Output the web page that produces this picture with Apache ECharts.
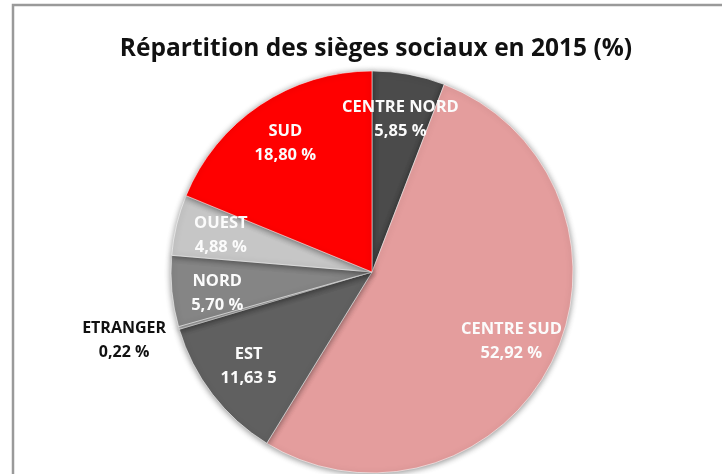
<!DOCTYPE html>
<html>
<head>
<meta charset="utf-8">
<script src="https://cdn.jsdelivr.net/npm/echarts@6/dist/echarts.min.js"></script>
<style>html,body{margin:0;padding:0;background:#fff}#c{width:722px;height:474px}</style>
</head>
<body>
<div id="c"></div>
<script>
const titleText = 'Répartition des sièges sociaux en 2015 (%)';
const categories = ['CENTRE NORD', 'CENTRE SUD', 'EST', 'ETRANGER', 'NORD', 'OUEST', 'SUD'];
const values = [5.85, 52.92, 11.635, 0.22, 5.70, 4.88, 18.80];
const valueLabels = ['5,85 %', '52,92 %', '11,63 5', '0,22 %', '5,70 %', '4,88 %', '18,80 %'];
const colors = ['#4b4b4b', '#e49d9d', '#606060', '#bfbfbf', '#858585', '#c6c6c6', '#ff0000'];

const FONT = '"Open Sans", "Liberation Sans", sans-serif';
const chart = echarts.init(document.getElementById('c'), null, {renderer: 'canvas'});

const baseData = categories.map((name, i) => ({
  name, value: values[i],
  itemStyle: {
    color: colors[i]
  }
}));

const labelData = categories.map((name, i) => {
  const item = {name, value: values[i], itemStyle: {color: 'rgba(0,0,0,0)'}};
  if (name === 'ETRANGER') {
    item.label = {
      position: 'outside',
      formatter: '{a|' + name + '}\n{a|' + valueLabels[i] + '}',
      rich: {a: {color: '#111', fontFamily: FONT, fontWeight: 'bold', fontSize: 16, lineHeight: 24, width: 96, align: 'center'}},
      offset: [2, 11]
    };
    item.labelLine = {show: false, length: 4, length2: 0};
  }
  if (name === 'NORD') {
    item.label = {offset: [0, 6]};
  }
  return item;
});

chart.setOption({
  backgroundColor: '#fff',
  animation: false,
  graphic: [{
    type: 'rect', shape: {x: 13, y: 5, width: 900, height: 700},
    style: {fill: 'none', stroke: '#9a9a9a', lineWidth: 2.5}, silent: true, z: -1
  }],
  title: {
    text: titleText, left: 371, textAlign: 'center', top: 32,
    textStyle: {fontFamily: FONT, fontWeight: 'bold', fontSize: 24.5, color: '#111'}
  },
  series: [{
    type: 'pie', center: [372, 272], radius: [0, 201], startAngle: 90, clockwise: true,
    silent: true, label: {show: false}, labelLine: {show: false},
    itemStyle: {borderColor: 'rgba(255,255,255,0.55)', borderWidth: 1, shadowBlur: 6, shadowColor: 'rgba(0,0,0,0.45)', shadowOffsetY: 1},
    data: baseData
  }, {
    type: 'pie', center: [372, 272], radius: [104, 201], startAngle: 90, clockwise: true,
    silent: true, z: 5,
    label: {
      show: true, position: 'inside',
      formatter: p => p.name + '\n' + valueLabels[p.dataIndex],
      color: '#fbfbfb', fontFamily: FONT, fontWeight: 'bold', fontSize: 16.5, lineHeight: 24, align: 'center'
    },
    labelLine: {show: false},
    itemStyle: {color: 'rgba(0,0,0,0)', borderWidth: 0},
    data: labelData
  }]
});
</script>
</body>
</html>
